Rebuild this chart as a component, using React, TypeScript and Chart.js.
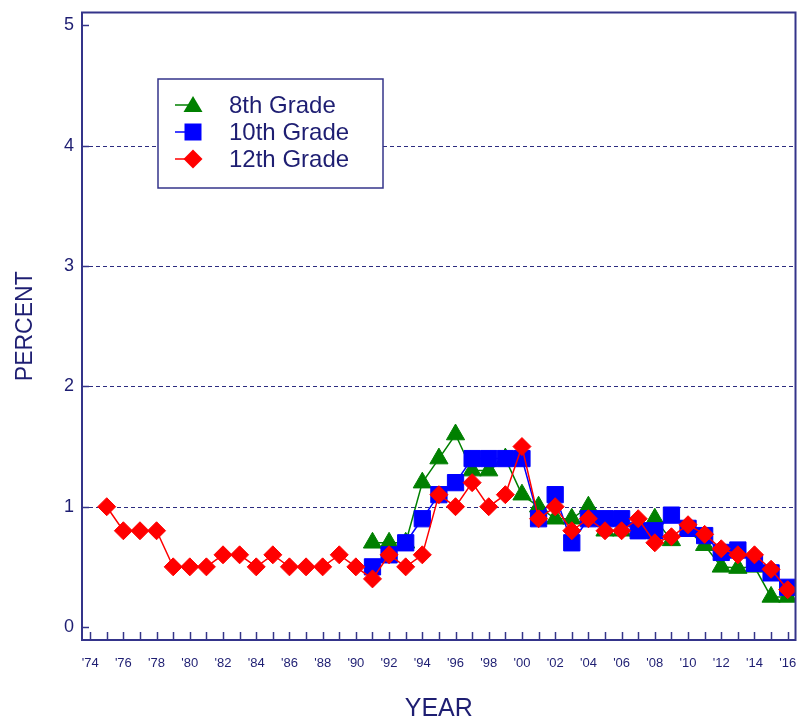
import React, { useEffect, useRef } from "react";
import { Chart, registerables } from "chart.js";

Chart.register(...registerables);

// ---------- data ----------
const years12 = [
  1975, 1976, 1977, 1978, 1979, 1980, 1981, 1982, 1983, 1984, 1985, 1986, 1987, 1988,
  1989, 1990, 1991, 1992, 1993, 1994, 1995, 1996, 1997, 1998, 1999, 2000, 2001, 2002,
  2003, 2004, 2005, 2006, 2007, 2008, 2009, 2010, 2011, 2012, 2013, 2014, 2015, 2016,
];
const grade12 = [
  1.0, 0.8, 0.8, 0.8, 0.5, 0.5, 0.5, 0.6, 0.6, 0.5, 0.6, 0.5, 0.5, 0.5,
  0.6, 0.5, 0.4, 0.6, 0.5, 0.6, 1.1, 1.0, 1.2, 1.0, 1.1, 1.5, 0.9, 1.0,
  0.8, 0.9, 0.8, 0.8, 0.9, 0.7, 0.75, 0.85, 0.77, 0.65, 0.6, 0.6, 0.48, 0.31,
];
const years8and10 = [
  1991, 1992, 1993, 1994, 1995, 1996, 1997, 1998, 1999, 2000, 2001, 2002, 2003,
  2004, 2005, 2006, 2007, 2008, 2009, 2010, 2011, 2012, 2013, 2014, 2015, 2016,
];
const grade10 = [
  0.5, 0.6, 0.7, 0.9, 1.1, 1.2, 1.4, 1.4, 1.4, 1.4, 0.9, 1.1, 0.7,
  0.9, 0.9, 0.9, 0.8, 0.8, 0.93, 0.82, 0.76, 0.62, 0.64, 0.53, 0.45, 0.33,
];
const grade8 = [
  0.7, 0.7, 0.7, 1.2, 1.4, 1.6, 1.3, 1.3, 1.4, 1.1, 1.0, 0.9, 0.9,
  1.0, 0.8, 0.8, 0.8, 0.9, 0.72, 0.8, 0.68, 0.5, 0.49, 0.5, 0.25, 0.25,
];
const xTickYears = [
  1974, 1975, 1976, 1977, 1978, 1979, 1980, 1981, 1982, 1983, 1984, 1985, 1986, 1987,
  1988, 1989, 1990, 1991, 1992, 1993, 1994, 1995, 1996, 1997, 1998, 1999, 2000, 2001,
  2002, 2003, 2004, 2005, 2006, 2007, 2008, 2009, 2010, 2011, 2012, 2013, 2014, 2015, 2016,
];
const xLabelYears = [
  1974, 1976, 1978, 1980, 1982, 1984, 1986, 1988, 1990, 1992, 1994,
  1996, 1998, 2000, 2002, 2004, 2006, 2008, 2010, 2012, 2014, 2016,
];
const yTickValues = [0, 1, 2, 3, 4, 5];
const yGridValues = [1, 2, 3, 4];
const seriesNames = ["8th Grade", "10th Grade", "12th Grade"];

// ---------- style ----------
const NAVY = "#1e1e72";
const AXIS = "#34348a";
const GRID = "#2c2c80";
const GREEN = "#008000";
const BLUE = "#0000ff";
const RED = "#ff0000";
const FONT = "'Liberation Sans', Arial, Helvetica, sans-serif";

function drawMarker(ctx: CanvasRenderingContext2D, kind: string, x: number, y: number, color: string) {
  ctx.fillStyle = color;
  ctx.beginPath();
  if (kind === "triangle") {
    const w = 9.5;
    ctx.moveTo(x, y - 9);
    ctx.lineTo(x + w, y + 7);
    ctx.lineTo(x - w, y + 7);
  } else if (kind === "rect") {
    const h = 8.5;
    ctx.rect(x - h, y - h, 2 * h, 2 * h);
  } else {
    const r = 9.5;
    ctx.moveTo(x, y - r);
    ctx.lineTo(x + r, y);
    ctx.lineTo(x, y + r);
    ctx.lineTo(x - r, y);
  }
  ctx.closePath();
  ctx.fill();
}

const framePlugin = {
  id: "framePlugin",
  beforeDatasetsDraw(chart: any) {
    const { ctx, chartArea: a, scales } = chart;
    const y = scales.y;
    ctx.save();
    ctx.strokeStyle = GRID;
    ctx.lineWidth = 1;
    ctx.setLineDash([4, 3]);
    for (const v of yGridValues) {
      const py = Math.round(y.getPixelForValue(v)) + 0.5;
      ctx.beginPath();
      ctx.moveTo(a.left, py);
      ctx.lineTo(a.right, py);
      ctx.stroke();
    }
    ctx.restore();
  },
  afterDatasetsDraw(chart: any) {
    const { ctx, chartArea: a, scales } = chart;
    const x = scales.x;
    const y = scales.y;
    ctx.save();
    ctx.setLineDash([]);
    ctx.strokeStyle = AXIS;
    ctx.lineWidth = 1.5;
    for (const v of yTickValues) {
      const py = Math.round(y.getPixelForValue(v)) + 0.5;
      ctx.beginPath();
      ctx.moveTo(a.left, py);
      ctx.lineTo(a.left + 7, py);
      ctx.stroke();
    }
    for (const v of xTickYears) {
      const px = Math.round(x.getPixelForValue(v)) + 0.5;
      ctx.beginPath();
      ctx.moveTo(px, a.bottom);
      ctx.lineTo(px, a.bottom - 8);
      ctx.stroke();
    }
    ctx.lineWidth = 2;
    ctx.strokeRect(a.left, a.top, a.right - a.left, a.bottom - a.top);
    ctx.restore();
  },
  afterDraw(chart: any) {
    const { ctx } = chart;
    ctx.save();
    const bx = 158, by = 79, bw = 225, bh = 109;
    ctx.fillStyle = "#ffffff";
    ctx.fillRect(bx, by, bw, bh);
    ctx.strokeStyle = AXIS;
    ctx.lineWidth = 1.5;
    ctx.strokeRect(bx, by, bw, bh);
    const rows = [
      { name: seriesNames[0], color: GREEN, kind: "triangle", y: 105 },
      { name: seriesNames[1], color: BLUE, kind: "rect", y: 132 },
      { name: seriesNames[2], color: RED, kind: "diamond", y: 159 },
    ];
    for (const r of rows) {
      ctx.strokeStyle = r.color;
      ctx.lineWidth = 1.5;
      ctx.beginPath();
      ctx.moveTo(175, r.y);
      ctx.lineTo(193, r.y);
      ctx.stroke();
      drawMarker(ctx, r.kind, 193, r.y, r.color);
      ctx.fillStyle = NAVY;
      ctx.font = `24px ${FONT}`;
      ctx.textBaseline = "middle";
      ctx.textAlign = "left";
      ctx.fillText(r.name, 229, r.y + 1);
    }
    ctx.restore();
  },
};

function toPoints(xs: number[], ys: number[]) {
  return xs.map((v, i) => ({ x: v, y: ys[i] }));
}

function noPad(s: any) {
  s.paddingLeft = 0;
  s.paddingRight = 0;
  s.paddingTop = 0;
  s.paddingBottom = 0;
}

export default function App() {
  const ref = useRef<HTMLCanvasElement | null>(null);

  useEffect(() => {
    if (!ref.current) return;
    const chart = new Chart(ref.current, {
      type: "line",
      data: {
        datasets: [
          {
            label: seriesNames[2],
            data: toPoints(years12, grade12),
            borderColor: RED,
            backgroundColor: RED,
            borderWidth: 1.5,
            pointStyle: "rectRot",
            pointRadius: 9,
            pointBorderWidth: 1,
            pointBorderColor: RED,
            pointBackgroundColor: RED,
            tension: 0,
          },
          {
            label: seriesNames[1],
            data: toPoints(years8and10, grade10),
            borderColor: BLUE,
            backgroundColor: BLUE,
            borderWidth: 1.5,
            pointStyle: "rect",
            pointRadius: 11.5,
            pointBorderWidth: 1,
            pointBorderColor: BLUE,
            pointBackgroundColor: BLUE,
            tension: 0,
          },
          {
            label: seriesNames[0],
            data: toPoints(years8and10, grade8),
            borderColor: GREEN,
            backgroundColor: GREEN,
            borderWidth: 1.5,
            pointStyle: "triangle",
            pointRadius: 10.5,
            pointBorderWidth: 1,
            pointBorderColor: GREEN,
            pointBackgroundColor: GREEN,
            tension: 0,
          },
        ],
      },
      options: {
        responsive: false,
        animation: false,
        layout: { padding: { top: 11, right: 2, left: 0, bottom: 0 } },
        plugins: {
          legend: { display: false },
          tooltip: { enabled: false },
        },
        scales: {
          x: {
            type: "linear",
            min: 1973.51,
            max: 2016.47,
            afterFit: (s: any) => {
              s.height = 81;
              noPad(s);
            },
            afterBuildTicks: (s: any) => {
              s.ticks = xLabelYears.map((v) => ({ value: v }));
            },
            grid: { display: false, drawTicks: false },
            border: { display: false },
            ticks: {
              autoSkip: false,
              maxRotation: 0,
              padding: 16,
              color: NAVY,
              font: { family: FONT, size: 13 },
              callback: (v: any) => "'" + String(v).slice(2),
            },
            title: {
              display: true,
              text: "YEAR",
              color: NAVY,
              font: { family: FONT, size: 25, lineHeight: 1 },
              padding: { top: 0, bottom: -1 },
            },
          },
          y: {
            type: "linear",
            min: -0.108,
            max: 5.108,
            afterFit: (s: any) => {
              s.width = 82;
              noPad(s);
            },
            afterBuildTicks: (s: any) => {
              s.ticks = yTickValues.map((v) => ({ value: v }));
            },
            grid: { display: false, drawTicks: false },
            border: { display: false },
            ticks: {
              padding: 8,
              color: NAVY,
              font: { family: FONT, size: 18 },
              callback: (v: any) => String(v),
            },
            title: {
              display: true,
              text: "PERCENT",
              color: NAVY,
              font: { family: FONT, size: 23, lineHeight: 1 },
              padding: { top: 14, bottom: 0 },
            },
          },
        },
      },
      plugins: [framePlugin],
    } as any);
    return () => chart.destroy();
  }, []);

  return (
    <div style={{ position: "fixed", left: 0, top: 0, width: 808, height: 721, background: "#fff" }}>
      <canvas ref={ref} width={808} height={721} style={{ display: "block" }} />
    </div>
  );
}
